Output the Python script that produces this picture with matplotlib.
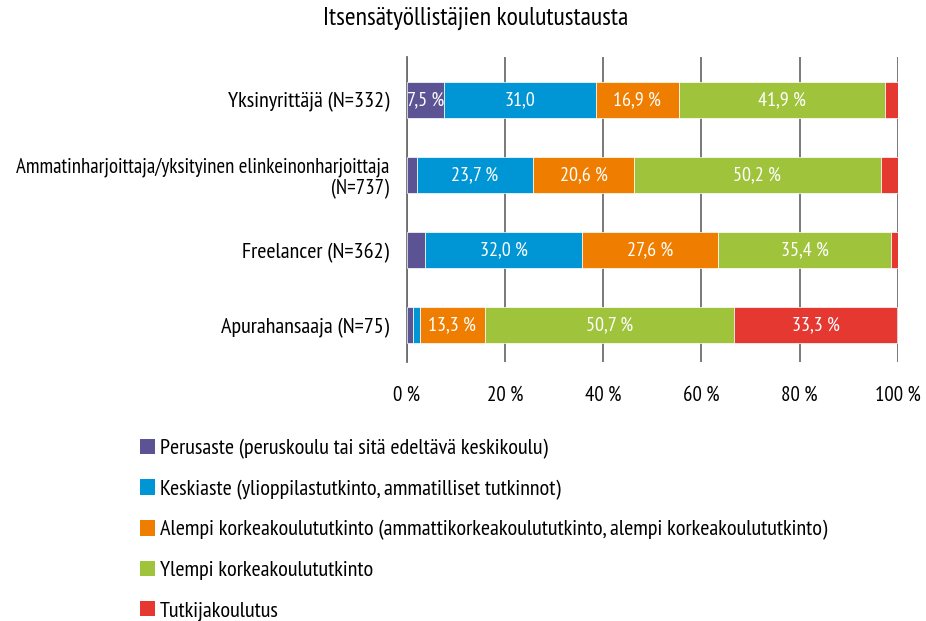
#!/usr/bin/env python3
"""Stacked bar chart of self-employed education background."""
import numpy as np
import matplotlib.pyplot as plt
from matplotlib.patches import Patch

plt.rcParams['font.family'] = ['PT Sans Narrow', 'DejaVu Sans']

categories = [
    'Yksinyrittäjä (N=332)',
    'Ammatinharjoittaja/yksityinen elinkeinonharjoittaja\n(N=737)',
    'Freelancer (N=362)',
    'Apurahansaaja (N=75)',
]
series_names = [
    'Perusaste (peruskoulu tai sitä edeltävä keskikoulu)',
    'Keskiaste (ylioppilastutkinto, ammatilliset tutkinnot)',
    'Alempi korkeakoulututkinto (ammattikorkeakoulututkinto, alempi korkeakoulututkinto)',
    'Ylempi korkeakoulututkinto',
    'Tutkijakoulutus',
]
perusaste = [7.5, 2.0, 3.7, 1.3]
keskiaste = [31.0, 23.7, 32.0, 1.3]
alempi = [16.9, 20.6, 27.6, 13.3]
ylempi = [41.9, 50.2, 35.4, 50.7]
tutkija = [2.7, 3.5, 1.3, 33.3]
# labels shown inside bars ('' = no label)
bar_labels = [
    ['7,5 %', '31,0', '16,9 %', '41,9 %', ''],
    ['', '23,7 %', '20,6 %', '50,2 %', ''],
    ['', '32,0 %', '27,6 %', '35,4 %', ''],
    ['', '', '13,3 %', '50,7 %', '33,3 %'],
]
colors = ['#5b5394', '#0096d6', '#ef7d00', '#9fc33b', '#e53830']

values = np.array([perusaste, keskiaste, alempi, ylempi, tutkija])

fig = plt.figure(figsize=(9.26, 6.21), dpi=100)
ax = fig.add_axes([0.4395, 0.417, 0.530, 0.491])

y = np.arange(len(categories))
left = np.zeros(len(categories))
for i, (vals, col) in enumerate(zip(values, colors)):
    bars = ax.barh(y, vals, left=left, height=0.48, color=col,
                   edgecolor='white', linewidth=0.5, zorder=3)
    for j, b in enumerate(bars):
        txt = bar_labels[j][i]
        if txt:
            ax.text(b.get_x() + b.get_width() / 2, y[j], txt,
                    ha='center', va='center', color='white', fontsize=14.5,
                    zorder=4)
    left += vals

# Axes and grid
ax.set_xlim(0, 100)
ax.set_ylim(3.49, -0.57)
ax.set_xticks(range(0, 101, 20))
ax.set_xticklabels([f'{t} %' for t in range(0, 101, 20)], fontsize=15)
ax.set_yticks(y)
ax.set_yticklabels(categories, fontsize=16)
ax.tick_params(axis='both', length=0)
ax.tick_params(axis='x', pad=17)
ax.tick_params(axis='y', pad=13)
ax.grid(axis='x', color='#6e6e6e', linewidth=1.3, zorder=0)
for s in ['top', 'right', 'bottom']:
    ax.spines[s].set_visible(False)
ax.spines['left'].set_color('#6e6e6e')
ax.spines['left'].set_linewidth(1.3)
for lab in ax.get_yticklabels():
    lab.set_horizontalalignment('right')
    lab.set_multialignment('right')
    lab.set_linespacing(1.1)
# the long two-line label is a bit narrower so it fits
ax.get_yticklabels()[1].set_fontsize(15)

fig.suptitle('Itsensätyöllistäjien koulutustausta', x=0.514, y=0.99,
             fontsize=18.5)

handles = [Patch(facecolor=c, edgecolor='none') for c in colors]
fig.legend(handles, series_names, loc='upper left',
           bbox_to_anchor=(0.1415, 0.308), frameon=False, fontsize=16,
           handlelength=0.7, handleheight=0.7, handletextpad=0.2,
           labelspacing=0.92, borderaxespad=0)

fig.savefig('out.png', dpi=100)
